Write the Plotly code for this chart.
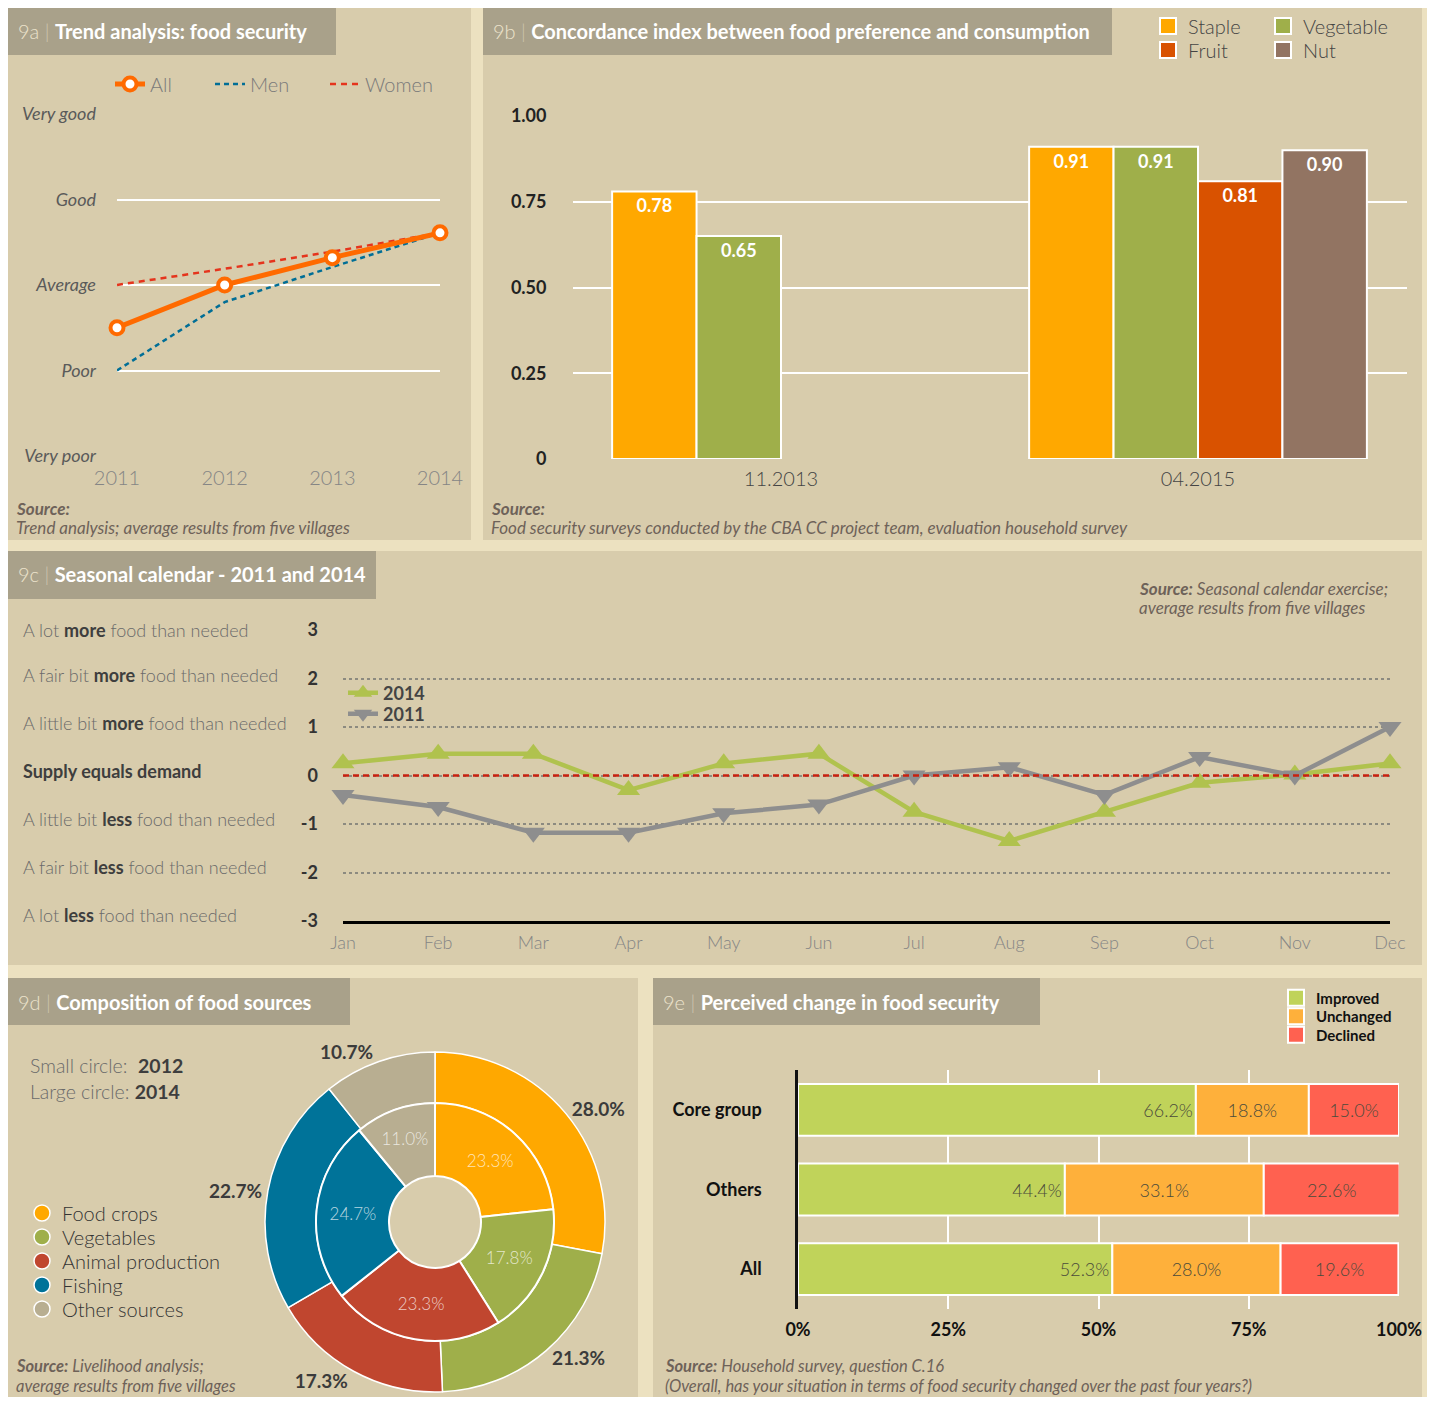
import plotly.graph_objects as go

# The page body adds an 8px margin, so the figure is placed at (8, 8)
OFF = 8
W, H = 1435 - 2 * OFF, 1405 - 2 * OFF
def px(x): return (x - OFF) / W
def py(y): return 1 - (y - OFF) / H

# ---------------- DATA ----------------
# 9a
years = [2011, 2012, 2013, 2014]
fs_levels = ["Very poor", "Poor", "Average", "Good", "Very good"]
fs_all = [1.5, 2.0, 2.32, 2.61]
fs_men = [1.0, 1.8, 2.21, 2.61]
fs_women = [2.0, 2.19, 2.39, 2.61]

# 9b
periods = ["11.2013", "04.2015"]
conc_staple = [0.78, 0.91]
conc_veg = [0.65, 0.91]
conc_fruit = [None, 0.81]
conc_nut = [None, 0.90]
conc_ticks = [0, 0.25, 0.5, 0.75, 1.0]
conc_ticktext = ["0", "0.25", "0.50", "0.75", "1.00"]

# 9c
months = ["Jan", "Feb", "Mar", "Apr", "May", "Jun", "Jul", "Aug", "Sep", "Oct", "Nov", "Dec"]
seas_2014 = [0.25, 0.45, 0.45, -0.3, 0.25, 0.45, -0.75, -1.35, -0.75, -0.15, 0.02, 0.25]
seas_2011 = [-0.4, -0.65, -1.18, -1.18, -0.78, -0.6, 0.0, 0.17, -0.4, 0.38, 0.0, 1.0]
seas_vals = [3, 2, 1, 0, -1, -2, -3]
seas_ticktext = ["3", "2", "1", "0", "-1", "-2", "-3"]
seas_labels = [
    "A lot <b>more</b> food than needed",
    "A fair bit <b>more</b> food than needed",
    "A little bit <b>more</b> food than needed",
    "<b>Supply equals demand</b>",
    "A little bit <b>less</b> food than needed",
    "A fair bit <b>less</b> food than needed",
    "A lot <b>less</b> food than needed",
]

# 9d
src_names = ["Food crops", "Vegetables", "Animal production", "Fishing", "Other sources"]
share_2012 = [23.3, 17.8, 23.3, 24.7, 11.0]
share_2014 = [28.0, 21.3, 17.3, 22.7, 10.7]

# 9e
groups = ["Core group", "Others", "All"]
improved = [66.2, 44.4, 52.3]
unchanged = [18.8, 33.1, 28.0]
declined = [15.0, 22.6, 19.6]
pct_ticks = [0, 25, 50, 75, 100]

# ---------------- STYLE ----------------
PAGE = "#ECE1C0"
PANEL = "#D8CCAC"
TITLEBOX = "#A9A18A"
FONT = "Lato, sans-serif"
LIGHT = "Lato Light, Lato, sans-serif"
SRC = "#6E6259"
C_STAPLE, C_VEG, C_FRUIT, C_NUT = "#FFA800", "#9FAF4A", "#D95200", "#927462"
PIE_COLORS = ["#FFA800", "#9FAF4A", "#C0462F", "#007399", "#B8AE91"]
E_COLORS = ["#C0D35A", "#FEB03B", "#FF6150"]

fig = go.Figure()
legends = {}
_leg_n = [0]
def new_legend(x, y, size, color, family, weight="normal"):
    _leg_n[0] += 1
    key = "legend" if _leg_n[0] == 1 else f"legend{_leg_n[0]}"
    legends[key] = dict(x=px(x), y=py(y), xanchor="left", yanchor="middle", bgcolor="rgba(0,0,0,0)",
                        borderwidth=0, tracegroupgap=0,
                        font=dict(size=size, color=color, family=family, weight=weight))
    return key

def legend_marker(name, symbol, size, color, key, line_w=1.5):
    # legend-only entry (no data point is drawn)
    fig.add_trace(go.Scatter(x=[None], y=[None], mode="markers", name=name,
                             marker=dict(symbol=symbol, size=size, color=color,
                                         line=dict(color="white", width=line_w)),
                             xaxis="x", yaxis="y", legend=key, hoverinfo="skip"))

# ---------------- 9a ----------------
fig.add_trace(go.Scatter(x=years, y=fs_women, mode="lines", name="Women",
                         line=dict(color="#E5341C", width=2.5, dash="6px,5px"),
                         xaxis="x", yaxis="y", cliponaxis=False,
                         legend=new_legend(325, 84, 20, "#7A7A7A", LIGHT)))
fig.add_trace(go.Scatter(x=years, y=fs_men, mode="lines", name="Men",
                         line=dict(color="#006E96", width=2.5, dash="5px,4px"),
                         xaxis="x", yaxis="y", cliponaxis=False,
                         legend=new_legend(210, 84, 20, "#7A7A7A", LIGHT)))
fig.add_trace(go.Scatter(x=years, y=fs_all, mode="lines+markers", name="All",
                         line=dict(color="#FF6A00", width=5),
                         marker=dict(symbol="circle", size=13, color="white",
                                     line=dict(color="#FF6A00", width=4)),
                         xaxis="x", yaxis="y", cliponaxis=False,
                         legend=new_legend(110, 84, 20, "#7A7A7A", LIGHT)))

# ---------------- 9b ----------------
for name, vals, col in [("Staple", conc_staple, C_STAPLE), ("Vegetable", conc_veg, C_VEG),
                        ("Fruit", conc_fruit, C_FRUIT), ("Nut", conc_nut, C_NUT)]:
    fig.add_trace(go.Bar(x=periods, y=vals, name=name, marker=dict(color=col, line=dict(color="white", width=2)),
                         texttemplate="%{y:.2f}", textposition="inside", insidetextanchor="end",
                         textfont=dict(color="white", size=18, family=FONT, weight="bold"),
                         textangle=0, xaxis="x2", yaxis="y2", showlegend=False))
for name, col, lx, ly in [("Staple", C_STAPLE, 1148, 26), ("Fruit", C_FRUIT, 1148, 50),
                          ("Vegetable", C_VEG, 1263, 26), ("Nut", C_NUT, 1263, 50)]:
    legend_marker(name, "square", 17, col, new_legend(lx, ly, 20, "#444", LIGHT), line_w=2)

# ---------------- 9c ----------------
fig.add_trace(go.Scatter(x=months, y=seas_2014, mode="lines+markers", name="2014",
                         line=dict(color="#B0C24E", width=4.5),
                         marker=dict(symbol="triangle-up", size=20, color="#B0C24E"),
                         xaxis="x3", yaxis="y3", cliponaxis=False,
                         legend=new_legend(343, 693, 18, "#444", FONT, weight="bold")))
fig.add_trace(go.Scatter(x=months, y=seas_2011, mode="lines+markers", name="2011",
                         line=dict(color="#8E8E8E", width=4.5),
                         marker=dict(symbol="triangle-down", size=20, color="#8E8E8E"),
                         xaxis="x3", yaxis="y3", cliponaxis=False,
                         legend=new_legend(343, 714, 18, "#444", FONT, weight="bold")))

# ---------------- 9d ----------------
fig.add_trace(go.Pie(values=share_2014, labels=src_names, sort=False, direction="clockwise", rotation=0,
                     hole=119 / 170, marker=dict(colors=PIE_COLORS, line=dict(color="white", width=1.5)),
                     domain=dict(x=[px(265), px(605)], y=[py(1392), py(1052)]),
                     texttemplate="<b>%{value:.1f}%</b>", textposition="outside",
                     outsidetextfont=dict(size=19, color="#3B3B3B", family=FONT),
                     showlegend=False))
fig.add_trace(go.Pie(values=share_2012, labels=src_names, sort=False, direction="clockwise", rotation=0,
                     hole=46 / 119, marker=dict(colors=PIE_COLORS, line=dict(color="white", width=2)),
                     domain=dict(x=[px(316), px(554)], y=[py(1341), py(1103)]),
                     texttemplate="%{value:.1f}%", textposition="inside", insidetextorientation="horizontal",
                     insidetextfont=dict(size=17, color="rgba(255,255,255,0.72)", family=LIGHT),
                     showlegend=False))
for i, (name, col) in enumerate(zip(src_names, PIE_COLORS)):
    legend_marker(name, "circle", 19, col, new_legend(22, 1213 + 24 * i, 20, "#333", LIGHT))

# ---------------- 9e ----------------
base_u = [a for a in improved]
base_d = [a + b for a, b in zip(improved, unchanged)]
for name, vals, base, col, anchor in [("Improved", improved, [0, 0, 0], E_COLORS[0], "end"),
                                      ("Unchanged", unchanged, base_u, E_COLORS[1], "middle"),
                                      ("Declined", declined, base_d, E_COLORS[2], "middle")]:
    fig.add_trace(go.Bar(y=groups, x=vals, base=base, orientation="h", name=name,
                         offsetgroup="e", width=0.65, offset=-0.325,
                         marker=dict(color=col, line=dict(color="white", width=2)),
                         texttemplate="%{x:.1f}%", textposition="inside", insidetextanchor=anchor,
                         textfont=dict(size=18, color="#4B4B3B", family=LIGHT), textangle=0,
                         xaxis="x4", yaxis="y4", showlegend=False))
for i, (name, col) in enumerate(zip(["Improved", "Unchanged", "Declined"], E_COLORS)):
    legend_marker(name, "square", 16, col, new_legend(1276, 998 + 18.5 * i, 15, "#111", FONT, weight="bold"),
                  line_w=2)

# ---------------- SHAPES ----------------
shapes = []
panels = [(8, 8, 471, 540), (483, 8, 1422, 540), (8, 551, 1422, 965), (8, 978, 638, 1405), (653, 978, 1422, 1405)]
for x0, y0, x1, y1 in panels:
    shapes.append(dict(type="rect", xref="paper", yref="paper", x0=px(x0), x1=px(x1), y0=py(y1), y1=py(y0),
                       fillcolor=PANEL, line=dict(width=0), layer="below"))
tboxes = [(8, 8, 336, 55), (483, 8, 1112, 55), (8, 551, 376, 599), (8, 978, 350, 1025), (653, 978, 1040, 1025)]
for x0, y0, x1, y1 in tboxes:
    shapes.append(dict(type="rect", xref="paper", yref="paper", x0=px(x0), x1=px(x1), y0=py(y1), y1=py(y0),
                       fillcolor=TITLEBOX, line=dict(width=0), layer="below"))
# zero reference line in 9c
shapes.append(dict(type="line", xref="x3 domain", yref="y3", x0=0, x1=1, y0=0, y1=0,
                   line=dict(color="#C8200F", width=2.5, dash="6px,4px"), layer="above"))

# ---------------- ANNOTATIONS ----------------
ann = []
def title(x, y, num, text):
    ann.append(dict(xref="paper", yref="paper", x=px(x), y=py(y), xanchor="left", yanchor="middle",
                    showarrow=False, font=dict(size=20, color="white", family=FONT),
                    text=f"<span style='color:#ECE3CC;font-family:Lato Light'>{num}</span>"
                         f"<span style='color:#CFC6B0;font-family:Lato Light'> | </span><b>{text}</b>"))
title(16, 31, "9a", "Trend analysis: food security")
title(491, 31, "9b", "Concordance index between food preference and consumption")
title(16, 574, "9c", "Seasonal calendar - 2011 and 2014")
title(16, 1002, "9d", "Composition of food sources")
title(661, 1002, "9e", "Perceived change in food security")

def src(x, y, text, size=17):
    ann.append(dict(xref="paper", yref="paper", x=px(x), y=py(y), xanchor="left", yanchor="middle",
                    showarrow=False, font=dict(size=size, color=SRC, family=FONT, style="italic"), text=text,
                    align="left"))
src(14, 508, "<b>Source:</b>")
src(14, 527, "Trend analysis; average results from five villages")
src(489, 508, "<b>Source:</b>")
src(489, 527, "Food security surveys conducted by the CBA CC project team, evaluation household survey")
src(1137, 588, "<b>Source:</b> Seasonal calendar exercise;")
src(1137, 607, "average results from five villages")
src(14, 1366, "<b>Source:</b> Livelihood analysis;", 16.5)
src(14, 1386, "average results from five villages", 16.5)
src(663, 1366, "<b>Source:</b> Household survey, question C.16", 16.5)
src(663, 1386, "(Overall, has your situation in terms of food security changed over the past four years?)", 16.5)

seas_label_y = [630, 675, 723, 771, 819, 867, 915]
for yy, lab in zip(seas_label_y, seas_labels):
    ann.append(dict(xref="paper", yref="paper", x=px(21), y=py(yy), xanchor="left", yanchor="middle",
                    showarrow=False, font=dict(size=18, color="#6A6A6A", family=LIGHT),
                    text=lab.replace("<b>", "<b style='color:#3E3E3E;font-family:Lato'>")))

ann.append(dict(xref="paper", yref="paper", x=px(28), y=py(1065), xanchor="left", yanchor="middle",
                showarrow=False, font=dict(size=19.5, color="#6A6A6A", family=LIGHT),
                text="Small circle:  <b style='color:#3E3E3E;font-family:Lato'>2012</b>"))
ann.append(dict(xref="paper", yref="paper", x=px(28), y=py(1091), xanchor="left", yanchor="middle",
                showarrow=False, font=dict(size=19.5, color="#6A6A6A", family=LIGHT),
                text="Large circle: <b style='color:#3E3E3E;font-family:Lato'>2014</b>"))

# ---------------- LAYOUT ----------------
fig.update_layout(
    width=W, height=H, margin=dict(l=0, r=0, t=0, b=0, pad=0, autoexpand=False),
    paper_bgcolor=PAGE, plot_bgcolor="rgba(0,0,0,0)",
    font=dict(family=FONT, color="#444"),
    barmode="group", bargap=0.19, bargroupgap=0,
    shapes=shapes, annotations=ann,
    xaxis=dict(domain=[px(117), px(440)], range=[2011, 2014], tickvals=years, showgrid=False,
               type="linear", zeroline=False, showline=False, ticks="", ticklabelstandoff=8,
               tickfont=dict(size=20, color="#858585", family=LIGHT)),
    yaxis=dict(domain=[py(456), py(114)], range=[0, 4], tickvals=[0, 1, 2, 3, 4], ticktext=fs_levels,
               type="linear", showgrid=True, gridcolor="white", gridwidth=1.5, zeroline=False, ticks="",
               ticklabelstandoff=20, tickfont=dict(size=18, color="#5A5A5A", family=FONT, style="italic")),
    xaxis2=dict(domain=[px(572.5), px(1406.5)], range=[-0.5, 1.5], anchor="y2", showgrid=False,
                type="category", zeroline=False, ticks="", ticklabelstandoff=6,
                tickfont=dict(size=20, color="#444", family=LIGHT)),
    yaxis2=dict(domain=[py(459), py(116)], range=[0, 1], anchor="x2", tickvals=conc_ticks,
                ticktext=conc_ticktext, showgrid=True, gridcolor="white", gridwidth=1.5, zeroline=False,
                ticks="", ticklabelstandoff=25,
                tickfont=dict(size=18, color="#222", family=FONT, weight="bold")),
    xaxis3=dict(domain=[px(343), px(1390)], range=[0, 11], anchor="y3", type="category",
                categoryorder="array", categoryarray=months, showgrid=False, zeroline=False,
                showline=True, linecolor="black", linewidth=3, ticks="", ticklabelstandoff=3,
                tickfont=dict(size=18, color="#858585", family=LIGHT)),
    yaxis3=dict(domain=[py(921), py(630)], range=[-3, 3], anchor="x3", tickvals=seas_vals,
                ticktext=seas_ticktext,
                showgrid=True, gridcolor="#8C8A80", gridwidth=1.5, griddash="dot", zeroline=False,
                ticks="", ticklabelstandoff=24,
                tickfont=dict(size=18, color="#333", family=FONT, weight="bold")),
    xaxis4=dict(domain=[px(798), px(1399)], range=[0, 100], anchor="y4", tickvals=pct_ticks,
                ticktext=[f"{t}%" for t in pct_ticks], showgrid=True, gridcolor="white", gridwidth=1.5,
                zeroline=False, ticks="", ticklabelstandoff=8,
                tickfont=dict(size=18, color="#111", family=FONT, weight="bold")),
    yaxis4=dict(domain=[py(1309), py(1070)], range=[2.5, -0.5], anchor="x4", showgrid=False,
                type="category", zeroline=False, showline=True, linecolor="#111", linewidth=2.5, ticks="",
                ticklabelstandoff=30, tickfont=dict(size=18, color="#111", family=FONT, weight="bold")),
    **legends,
)

fig.write_html("out.html")
